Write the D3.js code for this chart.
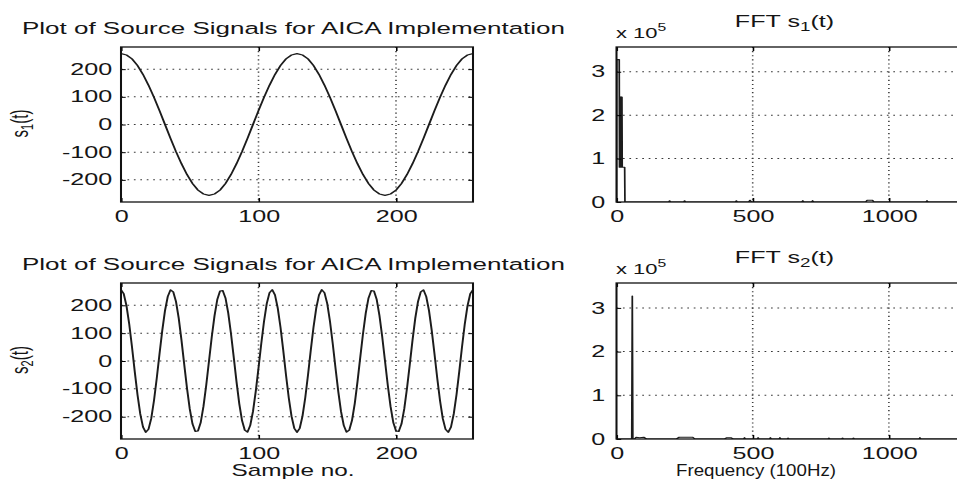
<!DOCTYPE html>
<html>
<head>
<meta charset="utf-8">
<script src="https://cdn.jsdelivr.net/npm/d3@7"></script>
<style>
  html, body { margin: 0; padding: 0; background: #fff; }
  svg { display: block; }
  text { font-family: "Liberation Sans", Arial, Helvetica, sans-serif; fill: #151515; }
</style>
</head>
<body>
<svg id="fig" width="957" height="481"></svg>
<script>
// ---- source signal s1(t): one value every 4 samples ----
const s1Samples = d3.range(0, 257, 4);
const s1Values = [
  256, 251, 237, 213, 181, 142, 98, 50, 0, -50, -98, -142, -181, -213, -237, -251,
  -256, -251, -237, -213, -181, -142, -98, -50, 0, 50, 98, 142, 181, 213, 237, 251,
  256, 251, 237, 213, 181, 142, 98, 50, 0, -50, -98, -142, -181, -213, -237, -251,
  -256, -251, -237, -213, -181, -142, -98, -50, 0, 50, 98, 142, 181, 213, 237, 251,
  256
];

// ---- source signal s2(t): one value every 2 samples ----
const s2Samples = d3.range(0, 257, 2);
const s2Values = [
  256, 241, 198, 132, 50, -38, -121, -190, -237, -256, -245, -206, -142, -62, 25, 109,
  181, 231, 255, 248, 213, 153, 74, -13, -98, -172, -226, -253, -251, -220, -162, -86,
  0, 86, 162, 220, 251, 253, 226, 172, 98, 13, -74, -153, -213, -248, -255, -231,
  -181, -109, -25, 62, 142, 206, 245, 256, 237, 190, 121, 38, -50, -132, -198, -241,
  -256, -241, -198, -132, -50, 38, 121, 190, 237, 256, 245, 206, 142, 62, -25, -109,
  -181, -231, -255, -248, -213, -153, -74, 13, 98, 172, 226, 253, 251, 220, 162, 86,
  0, -86, -162, -220, -251, -253, -226, -172, -98, -13, 74, 153, 213, 248, 255, 231,
  181, 109, 25, -62, -142, -206, -245, -256, -237, -190, -121, -38, 50, 132, 198, 241,
  256
];

const sampleTicks = [0, 100, 200];
const signalTicks = [-200, -100, 0, 100, 200];

// ---- FFT magnitude traces (x 10^5) ----
const fft1Freq = [0, 1, 10, 11, 12, 13, 14, 15, 16, 17, 18, 19, 20, 21, 30, 31,
  192, 195, 198, 247, 250, 253, 437, 440, 443, 485, 490, 496, 680, 684, 688,
  716, 720, 724, 915, 920, 940, 945, 1136, 1140, 1144, 1300];
const fft1Mag = [0, 3.28, 3.28, 0.8, 2.42, 0.8, 2.42, 0.8, 2.42, 0.8, 2.42, 0.8, 2.42, 0.8, 0.8, 0,
  0, 0.03, 0, 0, 0.03, 0, 0, 0.03, 0, 0, 0.04, 0, 0, 0.03, 0,
  0, 0.03, 0, 0, 0.04, 0.04, 0, 0, 0.03, 0, 0];

const fft2Freq = [0, 56, 58, 60, 66, 72, 85, 100, 110, 220, 230, 260, 280, 288,
  397, 405, 420, 428, 467, 470, 473, 517, 520, 523, 562, 565, 568, 597, 600, 603,
  627, 630, 633, 777, 780, 783, 827, 830, 833, 867, 870, 873, 1111, 1114, 1117, 1300];
const fft2Mag = [0, 0, 3.27, 0, 0, 0.04, 0.03, 0.04, 0, 0, 0.04, 0.04, 0.04, 0,
  0, 0.03, 0.03, 0, 0, 0.03, 0, 0, 0.03, 0, 0, 0.03, 0, 0, 0.03, 0,
  0, 0.02, 0, 0, 0.02, 0, 0, 0.02, 0, 0, 0.02, 0, 0, 0.03, 0, 0];

const freqTicks = [0, 500, 1000];
const magTicks = [0, 1, 2, 3];

const plotTitle = "Plot of Source Signals for AICA Implementation";
const sampleLabel = "Sample no.";
const freqLabel = "Frequency (100Hz)";

// ---- figure geometry: the figure is drawn in a narrower frame, stretched horizontally ----
const SX = 1.57;
const sx = v => v / SX;   // screen x -> frame x
const plain = d => String(d).replace("\u2212", "-");

const svg = d3.select("#fig");
const fig = svg.append("g").attr("transform", `scale(${SX},1)`);

const defs = svg.append("defs");
let clipId = 0;

function panel(o) {
  const x = d3.scaleLinear().domain(o.xDomain).range([sx(o.left), sx(o.right)]);
  const y = d3.scaleLinear().domain(o.yDomain).range([o.bottom, o.top]);
  const g = fig.append("g");
  const id = "clip" + (clipId++);
  defs.append("clipPath").attr("id", id).append("rect")
    .attr("x", x.range()[0]).attr("y", o.top)
    .attr("width", x.range()[1] - x.range()[0]).attr("height", o.bottom - o.top);

  // dotted grid
  const grid = g.append("g").attr("stroke", "#3a3a3a").attr("stroke-width", 1)
    .attr("stroke-dasharray", "1.1,3");
  grid.selectAll("line.h").data(o.yTicks.filter(t => y(t) > o.top + 1 && y(t) < o.bottom - 1))
    .join("line").attr("class", "h")
    .attr("x1", x.range()[0]).attr("x2", x.range()[1])
    .attr("y1", d => y(d)).attr("y2", d => y(d));
  grid.selectAll("line.v").data(o.xTicks.filter(t => x(t) > x.range()[0] + 1 && x(t) < x.range()[1] - 1))
    .join("line").attr("class", "v")
    .attr("y1", o.top).attr("y2", o.bottom)
    .attr("x1", d => x(d)).attr("x2", d => x(d));

  // data trace
  const line = d3.line().x(d => x(d[0])).y(d => y(d[1]));
  g.append("path")
    .datum(d3.zip(o.xs, o.ys))
    .attr("clip-path", `url(#${id})`)
    .attr("fill", "none")
    .attr("stroke", "#1c1c1c")
    .attr("stroke-width", o.lineWidth)
    .attr("stroke-linejoin", "round")
    .attr("d", line);

  // axes with inward ticks on all four sides
  const fs = 16;
  const bottomAx = g.append("g").attr("transform", `translate(0,${o.bottom})`)
    .call(d3.axisBottom(x).tickValues(o.xTicks).tickSize(-4).tickSizeOuter(0)
      .tickPadding(8.6).tickFormat(plain));
  const leftAx = g.append("g").attr("transform", `translate(${x.range()[0]},0)`)
    .call(d3.axisLeft(y).tickValues(o.yTicks).tickSize(-3).tickSizeOuter(0)
      .tickPadding(o.yPad).tickFormat(plain));
  const topAx = g.append("g").attr("transform", `translate(0,${o.top})`)
    .call(d3.axisTop(x).tickValues(o.xTicks).tickSize(-4).tickSizeOuter(0).tickFormat(""));
  const rightAx = g.append("g").attr("transform", `translate(${x.range()[1]},0)`)
    .call(d3.axisRight(y).tickValues(o.yTicks).tickSize(-3).tickSizeOuter(0).tickFormat(""));
  [bottomAx, leftAx, topAx, rightAx].forEach(a => {
    a.attr("font-size", fs);
    a.select(".domain").remove();
    a.selectAll(".tick line").attr("stroke", "#000").attr("stroke-width", 1);
  });

  // frame
  g.append("rect")
    .attr("x", x.range()[0]).attr("y", o.top)
    .attr("width", x.range()[1] - x.range()[0]).attr("height", o.bottom - o.top)
    .attr("fill", "none").attr("stroke", "#111").attr("stroke-width", 1.3);

  return { x, y, g };
}

const rows = [
  { top: 47, bottom: 202, sig: { xs: s1Samples, ys: s1Values }, fft: { xs: fft1Freq, ys: fft1Mag }, sub: "1" },
  { top: 283, bottom: 439, sig: { xs: s2Samples, ys: s2Values }, fft: { xs: fft2Freq, ys: fft2Mag }, sub: "2" }
];

rows.forEach(r => {
  // time-domain panel
  panel({
    left: 121, right: 473, top: r.top, bottom: r.bottom,
    xDomain: [0, 256], yDomain: [-280, 280],
    xTicks: sampleTicks, yTicks: signalTicks,
    xs: r.sig.xs, ys: r.sig.ys, lineWidth: 1.25, yPad: 5.6
  });

  // spectrum panel
  panel({
    left: 616.5, right: 970.6, top: r.top, bottom: r.bottom,
    xDomain: [0, 1300], yDomain: [0, 3.57],
    xTicks: freqTicks, yTicks: magTicks,
    xs: r.fft.xs, ys: r.fft.ys, lineWidth: 1.1, yPad: 7.2
  });

  // left title
  fig.append("text")
    .attr("x", sx(293.5)).attr("y", r.top - 13)
    .attr("text-anchor", "middle")
    .attr("font-size", 17)
    .attr("textLength", sx(543)).attr("lengthAdjust", "spacingAndGlyphs")
    .text(plotTitle);

  // right title: FFT s_n(t)
  const ft = fig.append("text")
    .attr("x", sx(784.5)).attr("y", r.top - 20)
    .attr("text-anchor", "middle")
    .attr("font-size", 16);
  ft.append("tspan").text("FFT s");
  ft.append("tspan").attr("font-size", 12).attr("dy", 4).text(r.sub);
  ft.append("tspan").attr("dy", -4).text("(t)");

  // exponent label x 10^5
  const ex = fig.append("text")
    .attr("x", sx(616)).attr("y", r.top - 9)
    .attr("font-size", 14);
  ex.append("tspan").text("x 10");
  ex.append("tspan").attr("font-size", 10).attr("dy", -7).text("5");

  // y label s_n(t)
  const yl = fig.append("text")
    .attr("transform", `translate(${sx(28)},${(r.top + r.bottom) / 2 - 1}) rotate(-90)`)
    .attr("text-anchor", "middle")
    .attr("font-size", 15);
  yl.append("tspan").text("s");
  yl.append("tspan").attr("font-size", 11).attr("dy", 3.5).text(r.sub);
  yl.append("tspan").attr("dy", -3.5).text("(t)");
});

// x labels
fig.append("text")
  .attr("x", sx(293)).attr("y", 476)
  .attr("text-anchor", "middle").attr("font-size", 16)
  .attr("textLength", sx(123)).attr("lengthAdjust", "spacingAndGlyphs")
  .text(sampleLabel);
fig.append("text")
  .attr("x", sx(756)).attr("y", 476)
  .attr("text-anchor", "middle").attr("font-size", 16.5)
  .attr("textLength", sx(160)).attr("lengthAdjust", "spacingAndGlyphs")
  .text(freqLabel);
</script>
</body>
</html>
